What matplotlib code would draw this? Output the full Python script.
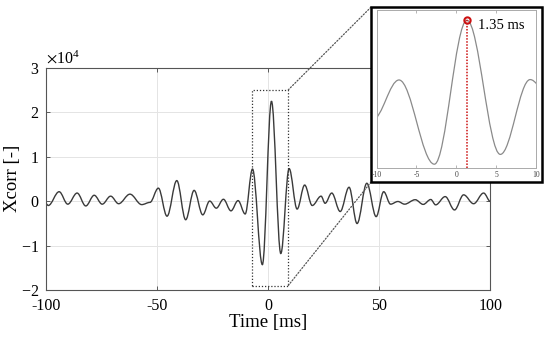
import matplotlib
matplotlib.use("Agg")
import matplotlib.pyplot as plt
from matplotlib.path import Path
from matplotlib.patches import PathPatch, Rectangle, ConnectionPatch

plt.rcParams['font.family'] = ['Liberation Serif', 'DejaVu Serif']
plt.rcParams['mathtext.fontset'] = 'stix'
plt.rcParams['axes.unicode_minus'] = False

# ---- data: local extrema of the cross-correlation (time in ms, value in counts)
lag_ms = [-100, -99.2, -94.3, -90.4, -86.2, -82.3, -78.5, -74.9, -71.1, -67.5,
          -62.4, -57.1, -53.4, -49.6, -45.7, -41.3, -37.3, -33.5, -29.6, -26.5,
          -23.5, -20.3, -16.9, -13.7, -10.5, -7.2, -2.75, 1.35, 5.55, 9.3,
          12.9, 16.3, 19.7, 23.7, 25.5, 28.5, 32.3, 36.3, 39.9, 44.3,
          48.5, 51.9, 55.0, 58.3, 61.3, 66.1, 69.7, 73.1, 75.3, 79.6,
          83.8, 87.9, 92.4, 96.9, 100]
xcorr = [-700, -1000, 2100, -700, 1800, -1100, 1300, -700, 1100, -600,
         1550, -800, -300, 2900, -3400, 4600, -4200, 2400, -3100, 0,
         -1600, 400, -2200, 100, -2900, 7200, -14300, 22450, -11800, 7300,
         -1800, 3600, -1000, 1100, -500, 1800, -2350, 3100, -5050, 4000,
         -3500, 2100, -700, -100, -700, 300, -750, 350, -850, 1000,
         -2000, 1400, -600, 1800, -100]
peak_lag = 1.35
peak_val = 22450
zoom_box_t = (-7.3, 8.9)
zoom_box_v = (-19000, 25000)
inset_xlim = (-10, 10)
inset_ylim = (-15300, 25000)
x_ticks = [-100, -50, 0, 50, 100]
y_ticks = [-20000, -10000, 0, 10000, 20000, 30000]
inset_ticks = [-10, -5, 0, 5, 10]


def smooth_path(t, v, k=0.36):
    verts = [(t[0], v[0])]
    codes = [Path.MOVETO]
    for i in range(len(t) - 1):
        dt = t[i + 1] - t[i]
        verts += [(t[i] + k * dt, v[i]), (t[i + 1] - k * dt, v[i + 1]), (t[i + 1], v[i + 1])]
        codes += [Path.CURVE4] * 3
    return Path(verts, codes)


fig = plt.figure(figsize=(5.5, 3.41), dpi=100)
ax = fig.add_axes([0.0845, 0.1496, 0.8073, 0.652])
ax.set_zorder(0)
ax.add_patch(PathPatch(smooth_path(lag_ms, xcorr), fill=False, ec='#3a3a3a', lw=1.0))
ax.set_xlim(-100, 100)
ax.set_ylim(-20000, 30000)
ax.set_xticks(x_ticks)
ax.set_yticks(y_ticks)
ax.ticklabel_format(axis='y', style='sci', scilimits=(0, 0), useMathText=True)
ax.yaxis.get_offset_text().set_fontsize(11.5)
ax.grid(True, color='#e4e4e4', lw=0.7)
ax.set_axisbelow(True)
ax.tick_params(direction='in', length=3, width=0.6, color='#444444', labelsize=11.5,
               top=True, right=True)
ax.tick_params(axis='x', pad=6)
ax.tick_params(axis='y', pad=5)
for s in ax.spines.values():
    s.set_color('#555555')
    s.set_linewidth(0.8)
ax.set_xlabel('Time [ms]', fontsize=13.5, labelpad=0)
ax.set_ylabel('Xcorr [-]', fontsize=13.5, labelpad=0)

# dotted zoom rectangle
ax.add_patch(Rectangle((zoom_box_t[0], zoom_box_v[0]), zoom_box_t[1] - zoom_box_t[0],
                       zoom_box_v[1] - zoom_box_v[0], fill=False, ls=(0, (1, 1.5)),
                       ec='#333333', lw=0.9, zorder=3))

# outer black frame of the inset
bx0, by0, bw, bh = 0.6745, 0.466, 0.311, 0.513
frame = Rectangle((bx0, by0), bw, bh, transform=fig.transFigure, fc='white',
                  ec='black', lw=1.8, zorder=1)
fig.add_artist(frame)

for yA, yB in [(zoom_box_v[1], by0 + bh), (zoom_box_v[0], by0)]:
    con = ConnectionPatch(xyA=(zoom_box_t[1], yA), coordsA=ax.transData,
                          xyB=(bx0, yB), coordsB=fig.transFigure,
                          ls=(0, (1, 1.5)), color='#555555', lw=0.9, zorder=0.5)
    fig.add_artist(con)

# inset
axi = fig.add_axes([0.685, 0.507, 0.289, 0.463])
axi.set_zorder(2)
axi.add_patch(PathPatch(smooth_path(lag_ms, xcorr), fill=False, ec='#8a8a8a', lw=0.9))
axi.set_xlim(*inset_xlim)
axi.set_ylim(*inset_ylim)
axi.set_xticks(inset_ticks)
axi.set_yticks([])
axi.tick_params(direction='in', length=2, width=0.5, color='#999999', labelsize=5.5,
                labelcolor='#444444', top=True, pad=2)
for s in axi.spines.values():
    s.set_color('#aaaaaa')
    s.set_linewidth(0.7)
axi.vlines(peak_lag, inset_ylim[0], peak_val, colors='#cc1111', linestyles=(0, (1, 1)), lw=1.1)
axi.plot([peak_lag], [peak_val], 'o', mfc='none', mec='#cc1111', ms=4.5, mew=1.5)
axi.annotate(f'{peak_lag} ms', xy=(peak_lag, peak_val), xytext=(8, -4),
             textcoords='offset points', fontsize=10.5, va='center', ha='left')

fig.savefig('out.png', dpi=100)
